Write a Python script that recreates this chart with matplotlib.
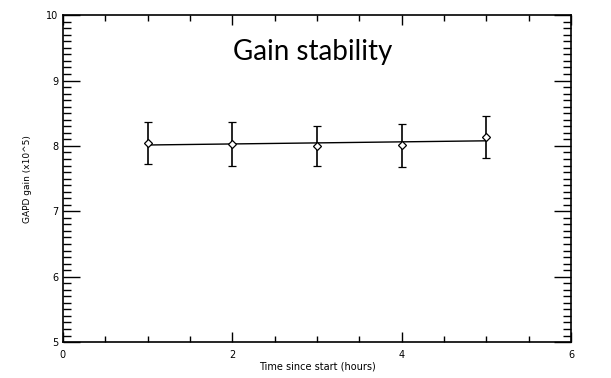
import numpy as np
import matplotlib
matplotlib.use("Agg")
import matplotlib.pyplot as plt
from matplotlib.ticker import MultipleLocator

hours = [1, 2, 3, 4, 5]
gain = [8.05, 8.03, 8.00, 8.01, 8.14]
gain_err = [0.32, 0.33, 0.31, 0.33, 0.32]

fig = plt.figure(figsize=(6.11, 3.78), dpi=100)
ax = fig.add_axes([0.103, 0.095, 0.8315, 0.865])

slope, intercept = np.polyfit(hours, gain, 1)
xf = np.array([hours[0], hours[-1]])
ax.plot(xf, slope * xf + intercept, color='black', lw=1.0)
ax.errorbar(hours, gain, yerr=gain_err, fmt='D', ms=4, mfc='white', mec='black',
            mew=0.9, ecolor='black', elinewidth=1.2, capsize=3, capthick=1.2, color='black')

ax.set_xlim(0, 6)
ax.set_ylim(5, 10)
ax.xaxis.set_major_locator(MultipleLocator(2))
ax.xaxis.set_minor_locator(MultipleLocator(0.5))
ax.yaxis.set_major_locator(MultipleLocator(1))
ax.yaxis.set_minor_locator(MultipleLocator(0.1))
ax.tick_params(axis='both', which='both', direction='in', top=True, right=True,
               labelsize=7, width=1.0, colors='black')
ax.tick_params(axis='y', which='major', length=12)
ax.tick_params(axis='y', which='minor', length=6)
ax.tick_params(axis='x', which='major', length=7)
ax.tick_params(axis='x', which='minor', length=4)
ax.tick_params(axis='x', pad=6)
for s in ax.spines.values():
    s.set_linewidth(1.2)

ax.set_xlabel('Time since start (hours)', fontsize=7, labelpad=1)
ax.set_ylabel('GAPD gain (x10^5)', fontsize=6.5, labelpad=10)

fig.text(0.511, 0.841, 'Gain stability', fontsize=20, family='Lato',
         ha='center', va='baseline')

fig.savefig('out.png', dpi=100)
